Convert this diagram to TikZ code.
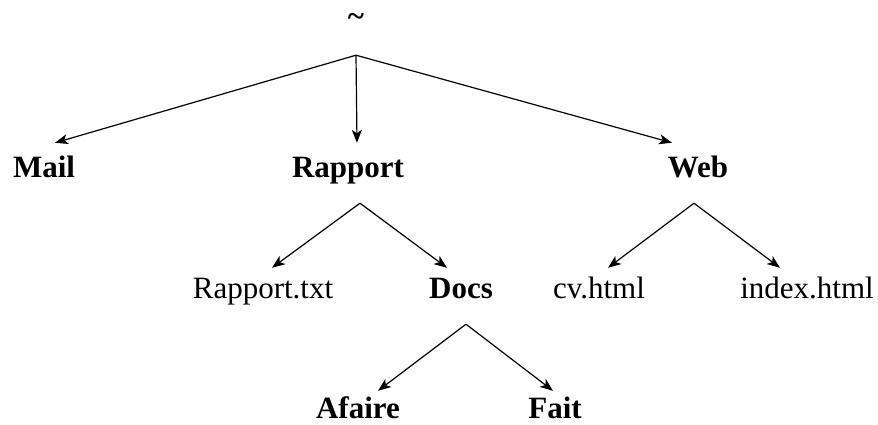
\documentclass[tikz,border=0pt]{standalone}
\usepackage{fontspec}
\setmainfont{Liberation Serif}
\usepackage{tikz}
\usetikzlibrary{arrows.meta,positioning}
\tikzset{
  nd/.style={inner xsep=2pt, inner ysep=4pt, text height=26pt, text depth=22pt,
             font=\fontsize{31}{36}\selectfont},
  ndir/.style={nd, font=\fontsize{31}{36}\selectfont\bfseries},
  nfile/.style={nd},
  ar/.style={-{Stealth[length=13pt, width=10pt, inset=3.5pt]}, draw=black, line width=1.2pt},
}
\begin{document}
\begin{tikzpicture}[x=1pt, y=1pt, on grid]
  \useasboundingbox (0,0) rectangle (878,-425);
  \node[ndir] (root) at (356,-25) {\textasciitilde};
  % first level
  \node[ndir, below left=150pt and 312pt of root] (mail) {Mail};
  \node[ndir, below left=150pt and 8pt of root] (rapport) {Rapport};
  \node[ndir, below right=150pt and 342pt of root] (web) {Web};
  % second level
  \node[nfile, below left=121pt and 85pt of rapport] (rtxt) {Rapport.txt};
  \node[ndir, below right=121pt and 113pt of rapport] (docs) {Docs};
  \node[nfile, below left=121pt and 99pt of web] (cv) {cv.html};
  \node[nfile, below right=121pt and 109pt of web] (index) {index.html};
  % third level
  \node[ndir, below left=120pt and 103pt of docs] (afaire) {Afaire};
  \node[ndir, below right=120pt and 94pt of docs] (fait) {Fait};
  \draw[ar] ([yshift=-2pt]root.south) -- ([xshift=11pt, yshift=4pt]mail.north);
  \draw[ar] ([yshift=-2pt]root.south) -- ([xshift=9pt, yshift=4pt]rapport.north);
  \draw[ar] ([yshift=-2pt]root.south) -- ([xshift=-26pt, yshift=4pt]web.north);
  \draw[ar] ([xshift=12pt]rapport.south) -- ([xshift=9pt]rtxt.north);
  \draw[ar] ([xshift=12pt]rapport.south) -- ([xshift=-14pt]docs.north);
  \draw[ar] ([xshift=-4pt]web.south) -- ([xshift=9pt]cv.north);
  \draw[ar] ([xshift=-4pt]web.south) -- ([xshift=-27pt]index.north);
  \draw[ar] ([xshift=5pt]docs.south) -- ([xshift=20pt, yshift=-3pt]afaire.north);
  \draw[ar] ([xshift=5pt]docs.south) -- ([xshift=-2pt, yshift=-3pt]fait.north);
\end{tikzpicture}
\end{document}
